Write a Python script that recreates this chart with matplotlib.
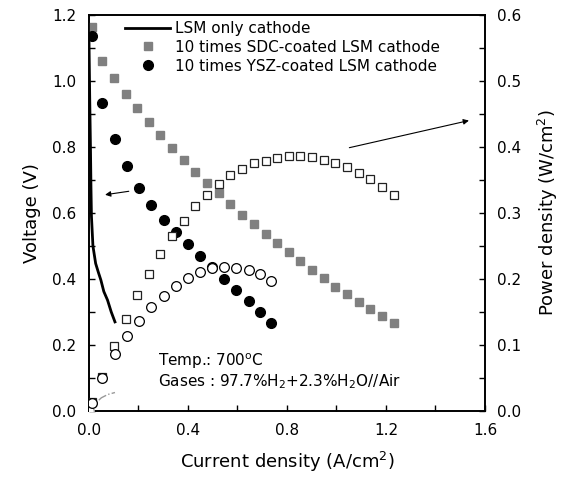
import matplotlib
matplotlib.use("Agg")
import matplotlib.pyplot as plt
from matplotlib.ticker import MultipleLocator

# LSM only cathode (voltage curve + power curve)
lsm_i = [0.000, 0.003, 0.006, 0.008, 0.010, 0.016, 0.027, 0.038, 0.048, 0.060, 0.075, 0.090, 0.105]
lsm_v = [1.13, 0.95, 0.80, 0.68, 0.59, 0.50, 0.447, 0.42, 0.397, 0.362, 0.336, 0.30, 0.27]
lsm_pi = [0.000, 0.010, 0.027, 0.050, 0.076, 0.105]
lsm_p = [0.000, 0.006, 0.012, 0.020, 0.025, 0.028]

# 10 times SDC-coated LSM cathode
sdc_i = [0.011, 0.054, 0.102, 0.148, 0.195, 0.241, 0.287, 0.335, 0.383, 0.429,
         0.477, 0.524, 0.571, 0.618, 0.665, 0.714, 0.760, 0.807, 0.853, 0.901,
         0.948, 0.995, 1.042, 1.089, 1.137, 1.184, 1.231]
sdc_v = [1.163, 1.061, 1.010, 0.961, 0.918, 0.876, 0.836, 0.797, 0.760, 0.724,
         0.691, 0.660, 0.626, 0.595, 0.566, 0.536, 0.508, 0.481, 0.454, 0.428,
         0.402, 0.377, 0.354, 0.331, 0.309, 0.288, 0.266]
sdc_p = [0.013, 0.052, 0.098, 0.139, 0.175, 0.208, 0.238, 0.265, 0.288, 0.310,
         0.328, 0.344, 0.357, 0.366, 0.375, 0.379, 0.384, 0.386, 0.386, 0.385,
         0.381, 0.375, 0.369, 0.361, 0.351, 0.340, 0.328]

# 10 times YSZ-coated LSM cathode
ysz_i = [0.011, 0.054, 0.105, 0.155, 0.203, 0.252, 0.302, 0.350, 0.399, 0.448,
         0.497, 0.545, 0.595, 0.645, 0.690, 0.735]
ysz_v = [1.136, 0.934, 0.824, 0.743, 0.677, 0.625, 0.580, 0.541, 0.505, 0.471,
         0.437, 0.401, 0.368, 0.333, 0.300, 0.266]
ysz_p = [0.012, 0.050, 0.086, 0.114, 0.137, 0.157, 0.174, 0.189, 0.202, 0.211,
         0.217, 0.218, 0.217, 0.214, 0.207, 0.197]

gray = "#808080"
plt.rcParams["font.family"] = "DejaVu Sans"

fig = plt.figure(figsize=(5.8, 4.88), dpi=100)
ax = fig.add_axes([0.1534, 0.1578, 0.6828, 0.8115])
ax2 = ax.twinx()  # power axis, drawn on top so open markers cover filled ones

# voltage curves
h1, = ax.plot(lsm_i, lsm_v, color="black", lw=2, label="LSM only cathode", zorder=3)
h2, = ax.plot(sdc_i, sdc_v, ls="none", marker="s", ms=6.2, color=gray, mec=gray,
              label="10 times SDC-coated LSM cathode", zorder=3)
h3, = ax.plot(ysz_i, ysz_v, ls="none", marker="o", ms=7, color="black",
              label="10 times YSZ-coated LSM cathode", zorder=3)

# power curves
ax2.plot(lsm_pi, lsm_p, color="#999999", lw=1, ls="-.", zorder=2)
ax2.plot(lsm_pi[:1], lsm_p[:1], ls="none", marker="o", ms=7, mfc="white",
         mec="#999999", mew=1, zorder=4)
ax2.plot(sdc_i, sdc_p, ls="none", marker="s", ms=6.2, mfc="white",
         mec="#222222", mew=0.9, zorder=4)
ax2.plot(ysz_i, ysz_p, ls="none", marker="o", ms=7, mfc="white",
         mec="black", mew=0.9, zorder=5)

ax.set_xlim(0, 1.6)
ax.set_ylim(0, 1.2)
ax2.set_ylim(0, 0.6)

ax.xaxis.set_major_locator(MultipleLocator(0.4))
ax.xaxis.set_minor_locator(MultipleLocator(0.2))
ax.yaxis.set_major_locator(MultipleLocator(0.2))
ax.yaxis.set_minor_locator(MultipleLocator(0.1))
ax2.yaxis.set_major_locator(MultipleLocator(0.1))
ax2.yaxis.set_minor_locator(MultipleLocator(0.05))
ax.xaxis.set_major_formatter(lambda v, p: f"{v:.1f}")
ax.yaxis.set_major_formatter(lambda v, p: f"{v:.1f}")
ax2.yaxis.set_major_formatter(lambda v, p: f"{v:.1f}")

for a in (ax, ax2):
    a.tick_params(which="both", direction="in", length=4, width=1,
                  labelsize=11, pad=9)
    for s in a.spines.values():
        s.set_linewidth(1.2)
ax.tick_params(axis="y", which="both", right=False)
ax.tick_params(axis="x", which="both", top=False)

ax.set_xlabel("Current density (A/cm$^2$)", fontsize=13, labelpad=8)
ax.set_ylabel("Voltage (V)", fontsize=13, labelpad=8)
ax2.set_ylabel("Power density (W/cm$^2$)", fontsize=13, labelpad=10)

ax2.legend(handles=[h1, h2, h3], loc="upper left", bbox_to_anchor=(0.09, 0.985),
           frameon=False, fontsize=11, handlelength=3, handletextpad=0.3,
           labelspacing=0.25, borderaxespad=0, borderpad=0)

ax.text(0.28, 0.135, "Temp.: 700$^{\\rm o}$C", fontsize=11)
ax.text(0.28, 0.074, "Gases : 97.7%H$_2$+2.3%H$_2$O//Air", fontsize=11)

# arrows pointing to the matching axis
arrow = dict(arrowstyle="-|>", color="black", lw=0.8, mutation_scale=8)
ax.annotate("", xy=(0.054, 0.654), xytext=(0.172, 0.667), arrowprops=arrow)
ax.annotate("", xy=(1.546, 0.882), xytext=(1.041, 0.796), arrowprops=arrow)

fig.savefig("out.png", dpi=100)
